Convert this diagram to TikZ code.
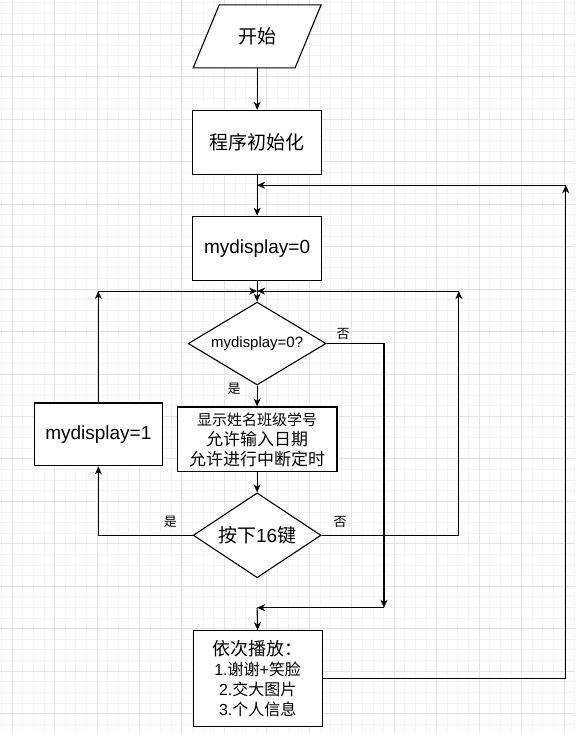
\documentclass[tikz,border=0pt]{standalone}
\usepackage{fontspec}
\setmainfont{Liberation Sans}
\newfontfamily\cjk{Noto Sans CJK SC}
\usetikzlibrary{arrows.meta,shapes.geometric}
\definecolor{minorg}{HTML}{F3F3F3}
\definecolor{majorg}{HTML}{E4E4E4}
\newcommand\zhtxt[1]{{\cjk #1}}
\begin{document}
\begin{tikzpicture}[x=1pt,y=-1pt,
  box/.style={draw=black,line width=1.1pt,fill=white,minimum width=129pt,minimum height=64pt,inner sep=0pt,align=center,font=\fontsize{19}{22}\selectfont},
  dia/.style={draw=black,shape=diamond,line width=1.1pt,fill=white,inner sep=0pt},
  arr/.style={line width=1.1pt,-{Stealth[length=8pt,width=7pt,inset=2.5pt]}},
  lbl/.style={font=\fontsize{13}{15}\selectfont\cjk,inner sep=0pt},
  minorline/.style={draw=minorg,line width=0.8pt},
  majorline/.style={draw=majorg,line width=0.9pt}]
\fill[white] (0,0) rectangle (575,733);
\foreach \i in {0,...,54} {\draw[minorline] ({1.1+10.625*\i},0) -- ({1.1+10.625*\i},733);}
\foreach \i in {0,...,68} {\draw[minorline] (0,{2.1+10.625*\i}) -- (575,{2.1+10.625*\i});}
\foreach \i in {0,...,13} {\draw[majorline] ({11.7+42.5*\i},0) -- ({11.7+42.5*\i},733);}
\foreach \i in {1,...,17} {\draw[majorline] (0,{-8.5+42.5*\i}) -- (575,{-8.5+42.5*\i});}
\useasboundingbox (0,0) rectangle (575,733);

% start parallelogram
\draw[line width=1.1pt,fill=white] (219,4.5)--(321,4.5)--(295,67.5)--(193,67.5)--cycle;
\node[inner sep=0pt,minimum width=128pt,minimum height=63pt,font=\fontsize{19}{22}\selectfont\cjk] (start) at (257,36) {开始};

\node[box] (init) at (257,142) {\zhtxt{程序初始化}};
\node[box] (d0) at (257,248) {mydisplay=0};
\node[dia,minimum width=138pt,minimum height=83pt,aspect=1.66,font=\fontsize{15}{17}\selectfont] (dec1) at (257,343.5) {mydisplay=0?};
\node[box,minimum width=160pt,minimum height=65pt,font=\fontsize{17}{20}\selectfont] (box2) at (257,439.5)
  {{\fontsize{15}{20}\selectfont\cjk 显示姓名班级学号}\\\zhtxt{允许输入日期}\\\zhtxt{允许进行中断定时}};
\node[box,minimum width=128pt,minimum height=63pt] (m1) at (98,434.5) {mydisplay=1};
\node[dia,minimum width=128pt,minimum height=85pt,aspect=1.5,font=\fontsize{19}{22}\selectfont] (dec2) at (257,535.5) {\zhtxt{按下}16\zhtxt{键}};
\node[box,minimum width=129pt,minimum height=96pt,font=\fontsize{16}{20}\selectfont] (final) at (257.5,679)
  {{\fontsize{18}{21}\selectfont\cjk 依次播放：}\\1.\zhtxt{谢谢}+\zhtxt{笑脸}\\2.\zhtxt{交大图片}\\3.\zhtxt{个人信息}};

\coordinate (J) at (257,291);
\coordinate (L) at (98,291);
\coordinate (R) at (459,291);
\coordinate (T) at (566,185);
\coordinate (TJ) at (257,185);
\coordinate (P1) at (384,608);
\coordinate (P2) at (257,608);

\draw[arr] (start) -- (init);
\draw[arr] (init) -- (d0);
\draw[arr] (d0) -- (dec1);
\draw[arr] (final.east) -| (T);
\draw[arr] (T) -- (TJ);
\draw[arr] (dec1.east) -| (P1);
\draw[arr] (P1) -- (P2);
\draw[arr] (P2) -- (final.north);
\draw[arr] (dec1.south) -- (box2.north);
\draw[arr] (box2) -- (dec2);
\draw[arr] (dec2.west) -| (m1.south);
\draw[arr] (m1.north) -- (L);
\draw[arr] (L) -- (J);
\draw[arr] (dec2.east) -| (R);
\draw[arr] (R) -- (J);

\node[lbl] (y1) at (234,389) {是};
\node[lbl] (n1) at (343,334) {否};
\node[lbl] (y2) at (170,522) {是};
\node[lbl] (n2) at (340,522) {否};
\end{tikzpicture}
\end{document}
